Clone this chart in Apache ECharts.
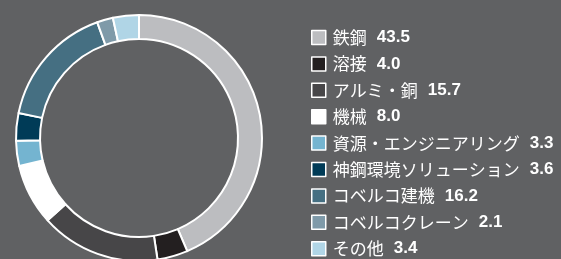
<!DOCTYPE html>
<html>
<head>
<meta charset="utf-8">
<script src="https://cdn.jsdelivr.net/npm/echarts@6/dist/echarts.min.js"></script>
<style>
  html, body { margin: 0; padding: 0; background: #606163; }
  #chart { width: 561px; height: 259px; }
</style>
</head>
<body>
<div id="chart"></div>
<script>
// 事業別構成比
const names = ['鉄鋼', '溶接', 'アルミ・銅', '機械', '資源・エンジニアリング', '神鋼環境ソリューション', 'コベルコ建機', 'コベルコクレーン', 'その他']
const shares = [43.5, 4.0, 15.7, 8.0, 3.3, 3.6, 16.2, 2.1, 3.4]
const colors = ['#bcbdc0', '#231f20', '#474648', '#ffffff', '#74b4d0', '#003b57', '#456f82', '#7f9aa9', '#b0d5e6']

const chart = echarts.init(document.getElementById('chart'))

const pieData = names.map((n, i) => ({
    name: n,
    value: shares[i],
    itemStyle: { color: colors[i] }
}))

chart.setOption({
    backgroundColor: '#606163',
    animation: false,
    legend: {
        orient: 'vertical',
        left: 311,
        top: 29,
        padding: 0,
        icon: 'rect',
        itemWidth: 14,
        itemHeight: 14,
        itemGap: 9.4,
        itemStyle: { borderColor: '#ffffff', borderWidth: 1.5 },
        selectedMode: false,
        data: names,
        formatter: (name) => {
            const v = shares[names.indexOf(name)].toFixed(1)
            return '{n|' + name + '}{v|' + v + '}'
        },
        textStyle: {
            color: '#ffffff',
            padding: [0, 0, 0, 2],
            rich: {
                n: { fontFamily: 'Noto Sans CJK JP', fontSize: 17, color: '#ffffff', lineHeight: 20, padding: [0, 10, 0, 0] },
                v: { fontFamily: 'Liberation Sans', fontSize: 17, fontWeight: 'bold', color: '#ffffff', lineHeight: 20 }
            }
        }
    },
    series: [{
        type: 'pie',
        center: [139, 138],
        radius: [99, 123],
        startAngle: 90,
        clockwise: true,
        silent: true,
        label: { show: false },
        labelLine: { show: false },
        itemStyle: { borderColor: '#ffffff', borderWidth: 2 },
        data: pieData
    }]
})
</script>
</body>
</html>
